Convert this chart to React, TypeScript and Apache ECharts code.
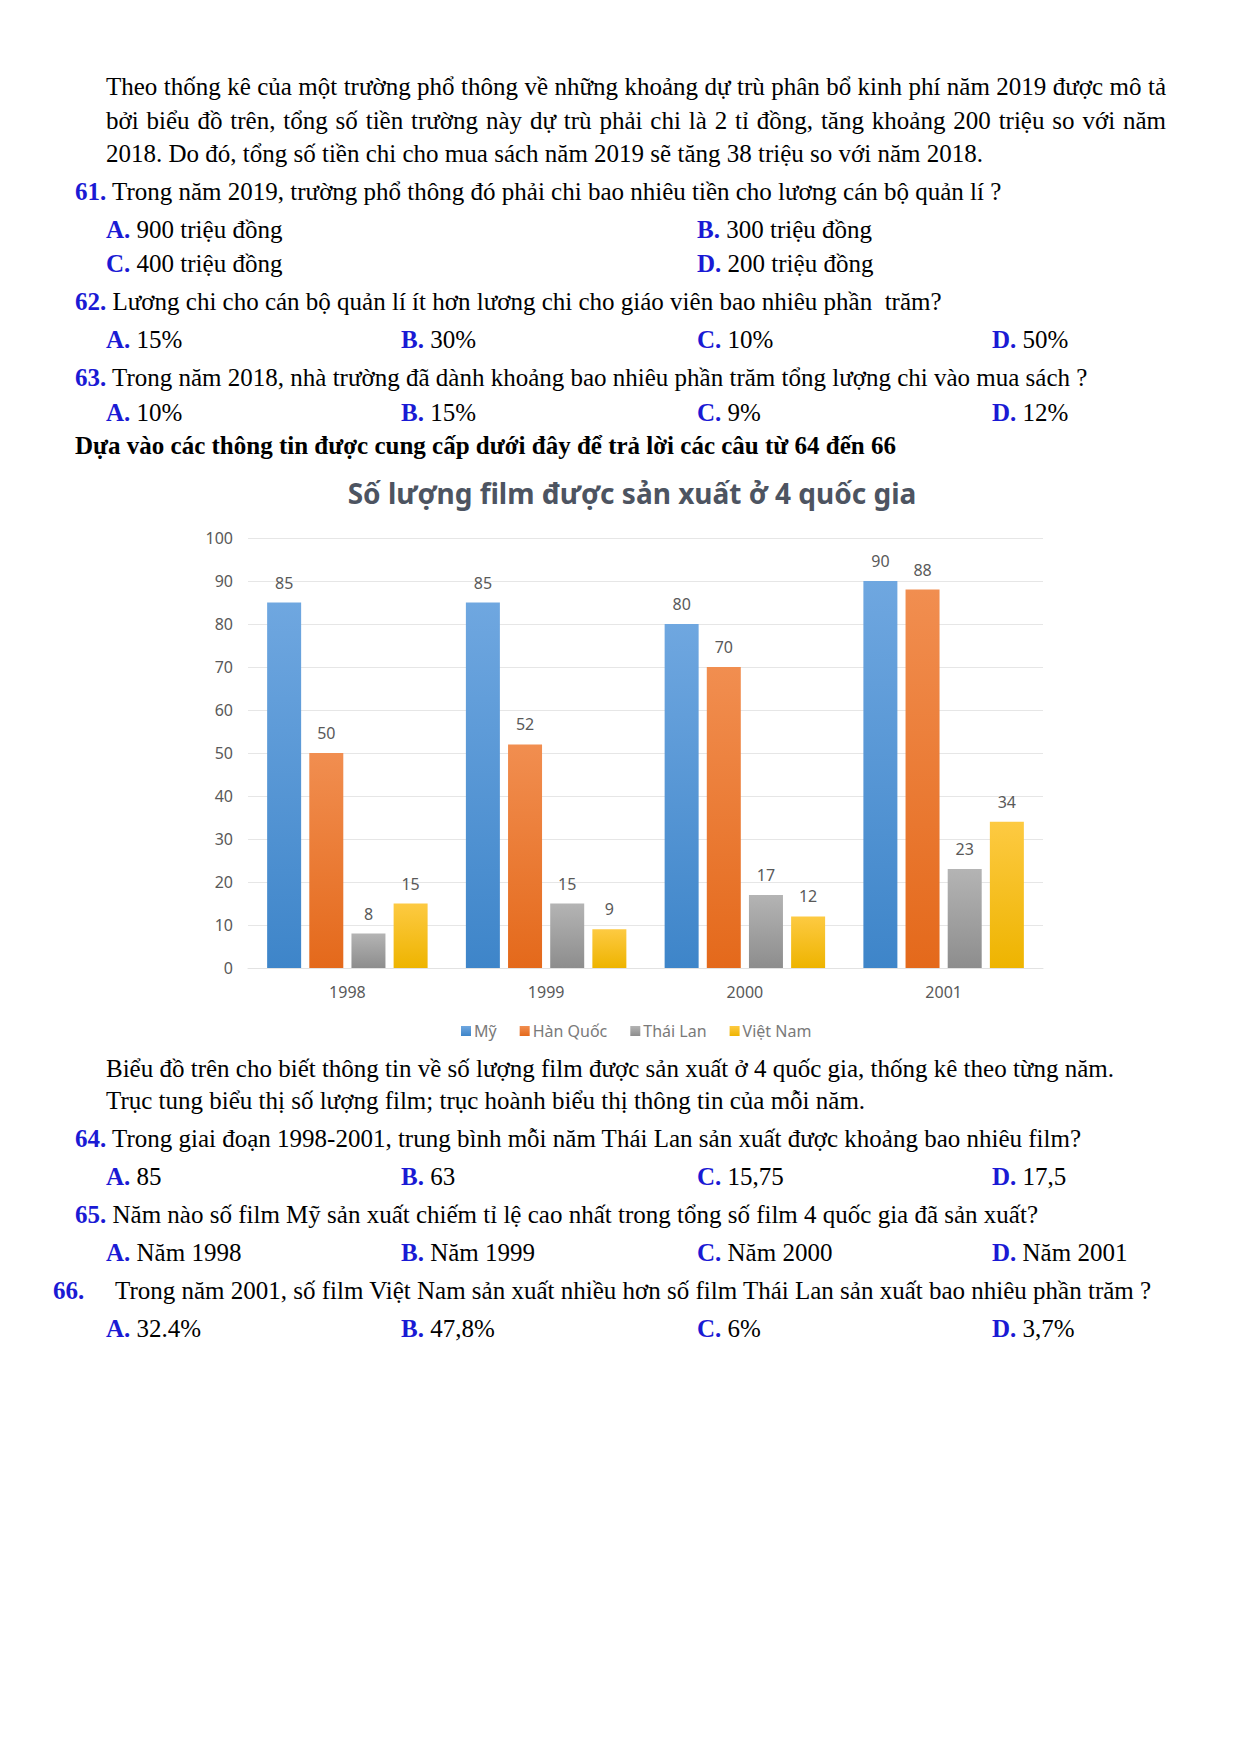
import React, { useEffect, useRef } from "react";
import * as echarts from "echarts";

const years = ["1998", "1999", "2000", "2001"];
const seriesNames = ["Mỹ", "Hàn Quốc", "Thái Lan", "Việt Nam"];
const valuesMy = [85, 85, 80, 90];
const valuesHanQuoc = [50, 52, 70, 88];
const valuesThaiLan = [8, 15, 17, 23];
const valuesVietNam = [15, 9, 12, 34];
const yTicks = { min: 0, max: 100, interval: 10 };
const chartTitle = "Số lượng film được sản xuất ở 4 quốc gia";

const gradients = [
  ["#6fa7e0", "#3e85c9"],
  ["#f18e50", "#e4691b"],
  ["#b4b4b4", "#8d8d8d"],
  ["#fdca42", "#eeb400"],
];

const BLUE = "#1a1ad4";
const FONT = "'Liberation Serif', 'Times New Roman', serif";

type LineProps = { x: number; y: number; children?: React.ReactNode; justify?: number; bold?: boolean };
const Line = ({ x, y, children, justify, bold }: LineProps) => (
  <div
    style={{
      position: "absolute",
      left: x,
      top: y - 17,
      lineHeight: "34px",
      height: 34,
      whiteSpace: justify ? "normal" : "nowrap",
      width: justify ? justify : undefined,
      textAlign: justify ? "justify" : "left",
      textAlignLast: justify ? "justify" : undefined,
      fontWeight: bold ? "bold" : "normal",
      overflow: "visible",
    } as React.CSSProperties}
  >
    {children}
  </div>
);

const B = ({ children }: { children?: React.ReactNode }) => (
  <span style={{ color: BLUE, fontWeight: "bold" }}>{children}</span>
);

const Opt = ({ x, y, label, text }: { x: number; y: number; label: string; text: string }) => (
  <Line x={x} y={y}>
    <B>{label}</B> {text}
  </Line>
);

function Chart() {
  const ref = useRef<HTMLDivElement>(null);
  useEffect(() => {
    if (!ref.current) return;
    const chart = echarts.init(ref.current, undefined, { renderer: "svg" });
    const data = [valuesMy, valuesHanQuoc, valuesThaiLan, valuesVietNam];
    chart.setOption({
      animation: false,
      title: {
        text: chartTitle,
        left: 627,
        top: 14,
        textAlign: "center",
        textStyle: {
          fontFamily: "'Noto Sans', sans-serif",
          fontSize: 28,
          fontWeight: "bold",
          color: "#4d5461",
        },
      },
      legend: {
        data: seriesNames,
        left: 456,
        top: 558,
        icon: "rect",
        itemWidth: 10,
        itemHeight: 10,
        itemGap: 23,
        textStyle: {
          fontFamily: "'Noto Sans', sans-serif",
          fontSize: 16,
          color: "#7a7a7a",
          padding: [0, 0, 0, -2],
        },
      },
      grid: { left: 248, top: 78, width: 795, height: 430 },
      xAxis: {
        type: "category",
        data: years,
        axisTick: { show: false },
        axisLine: { lineStyle: { color: "#e2e2e2", width: 1 } },
        axisLabel: {
          margin: 16,
          fontFamily: "'Noto Sans', sans-serif",
          fontSize: 16,
          color: "#595959",
        },
      },
      yAxis: {
        type: "value",
        min: yTicks.min,
        max: yTicks.max,
        interval: yTicks.interval,
        axisLine: { show: false },
        axisTick: { show: false },
        splitLine: { lineStyle: { color: "#e6e6e6", width: 1 } },
        axisLabel: {
          margin: 15,
          fontFamily: "'Noto Sans', sans-serif",
          fontSize: 16,
          color: "#595959",
        },
      },
      series: seriesNames.map((name, i) => ({
        name,
        type: "bar",
        data: data[i],
        barWidth: 34,
        barGap: "24%",
        itemStyle: {
          color: new echarts.graphic.LinearGradient(0, 0, 0, 1, [
            { offset: 0, color: gradients[i][0] },
            { offset: 1, color: gradients[i][1] },
          ]),
        },
        label: {
          show: true,
          position: "top",
          distance: 12,
          fontFamily: "'Noto Sans', sans-serif",
          fontSize: 16,
          color: "#595959",
        },
      })),
    });
    return () => chart.dispose();
  }, []);
  return <div ref={ref} style={{ position: "absolute", left: 0, top: 460, width: 1240, height: 600 }} />;
}

export default function App() {
  return (
    <div
      style={{
        position: "absolute",
        left: 0,
        top: 0,
        width: 1240,
        height: 1754,
        background: "#ffffff",
        fontFamily: FONT,
        fontSize: 25,
        color: "#000000",
        overflow: "hidden",
      }}
    >
      <Line x={106} y={87} justify={1060}>
        Theo thống kê của một trường phổ thông về những khoảng dự trù phân bổ kinh phí năm 2019 được mô tả
      </Line>
      <Line x={106} y={121} justify={1060}>
        bởi biểu đồ trên, tổng số tiền trường này dự trù phải chi là 2 tỉ đồng, tăng khoảng 200 triệu so với năm
      </Line>
      <Line x={106} y={154}>
        2018. Do đó, tổng số tiền chi cho mua sách năm 2019 sẽ tăng 38 triệu so với năm 2018.
      </Line>
      <Line x={75} y={192}>
        <B>61.</B> Trong năm 2019, trường phổ thông đó phải chi bao nhiêu tiền cho lương cán bộ quản lí ?
      </Line>
      <Opt x={106} y={230} label="A." text="900 triệu đồng" />
      <Opt x={697} y={230} label="B." text="300 triệu đồng" />
      <Opt x={106} y={264} label="C." text="400 triệu đồng" />
      <Opt x={697} y={264} label="D." text="200 triệu đồng" />
      <Line x={75} y={302}>
        <B>62.</B> Lương chi cho cán bộ quản lí ít hơn lương chi cho giáo viên bao nhiêu phần&nbsp; trăm?
      </Line>
      <Opt x={106} y={340} label="A." text="15%" />
      <Opt x={401} y={340} label="B." text="30%" />
      <Opt x={697} y={340} label="C." text="10%" />
      <Opt x={992} y={340} label="D." text="50%" />
      <Line x={75} y={378}>
        <B>63.</B> Trong năm 2018, nhà trường đã dành khoảng bao nhiêu phần trăm tổng lượng chi vào mua sách ?
      </Line>
      <Opt x={106} y={413} label="A." text="10%" />
      <Opt x={401} y={413} label="B." text="15%" />
      <Opt x={697} y={413} label="C." text="9%" />
      <Opt x={992} y={413} label="D." text="12%" />
      <Line x={75} y={446} bold>
        Dựa vào các thông tin được cung cấp dưới đây để trả lời các câu từ 64 đến 66
      </Line>

      <Chart />

      <Line x={106} y={1069}>
        Biểu đồ trên cho biết thông tin về số lượng film được sản xuất ở 4 quốc gia, thống kê theo từng năm.
      </Line>
      <Line x={106} y={1101}>
        Trục tung biểu thị số lượng film; trục hoành biểu thị thông tin của mỗi năm.
      </Line>
      <Line x={75} y={1139}>
        <B>64.</B> Trong giai đoạn 1998-2001, trung bình mỗi năm Thái Lan sản xuất được khoảng bao nhiêu film?
      </Line>
      <Opt x={106} y={1177} label="A." text="85" />
      <Opt x={401} y={1177} label="B." text="63" />
      <Opt x={697} y={1177} label="C." text="15,75" />
      <Opt x={992} y={1177} label="D." text="17,5" />
      <Line x={75} y={1215}>
        <B>65.</B> Năm nào số film Mỹ sản xuất chiếm tỉ lệ cao nhất trong tổng số film 4 quốc gia đã sản xuất?
      </Line>
      <Opt x={106} y={1253} label="A." text="Năm 1998" />
      <Opt x={401} y={1253} label="B." text="Năm 1999" />
      <Opt x={697} y={1253} label="C." text="Năm 2000" />
      <Opt x={992} y={1253} label="D." text="Năm 2001" />
      <Line x={53} y={1291}>
        <B>66.</B>
      </Line>
      <Line x={115} y={1291}>
        Trong năm 2001, số film Việt Nam sản xuất nhiều hơn số film Thái Lan sản xuất bao nhiêu phần trăm ?
      </Line>
      <Opt x={106} y={1329} label="A." text="32.4%" />
      <Opt x={401} y={1329} label="B." text="47,8%" />
      <Opt x={697} y={1329} label="C." text="6%" />
      <Opt x={992} y={1329} label="D." text="3,7%" />
    </div>
  );
}
